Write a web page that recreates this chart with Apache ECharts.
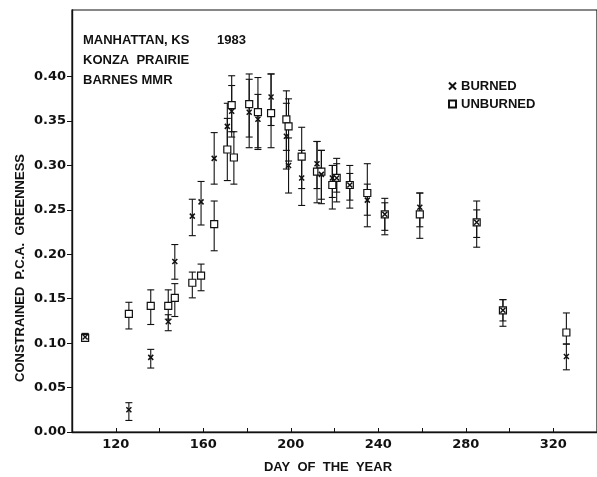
<!DOCTYPE html>
<html><head><meta charset="utf-8">
<script src="https://cdn.jsdelivr.net/npm/echarts@6/dist/echarts.min.js"></script>
<style>html,body{margin:0;padding:0;background:#fff}#c{width:597px;height:477px}</style>
</head><body><div id="c"></div>
<script>
// Burned plots: day, mean, lower and upper error limits
const burnedDay  = [106, 126, 136, 144, 147, 155, 159, 165, 171, 173, 181, 185, 191, 198, 199, 205, 212, 214, 219, 221, 227, 235, 243, 259, 285, 297, 326];
const burnedVal  = [0.107,0.025,0.084,0.124,0.192,0.243,0.259,0.308,0.344,0.361,0.360,0.352,0.377,0.333,0.300,0.286,0.302,0.290,0.286,0.286,0.278,0.261,0.245,0.253,0.236,0.137,0.085];
const burnedLow  = [0.103,0.013,0.072,0.114,0.172,0.221,0.233,0.279,0.318,0.332,0.320,0.320,0.345,0.296,0.269,0.255,0.274,0.262,0.264,0.270,0.261,0.244,0.227,0.231,0.219,0.125,0.070];
const burnedHigh = [0.111,0.033,0.093,0.132,0.211,0.262,0.282,0.337,0.370,0.390,0.397,0.380,0.403,0.370,0.331,0.317,0.327,0.317,0.300,0.302,0.291,0.279,0.258,0.269,0.250,0.149,0.099];
// Unburned plots
const unburnedDay  = [106, 126, 136, 144, 147, 155, 159, 165, 171, 173, 174, 181, 185, 191, 198, 199, 205, 212, 214, 219, 221, 227, 235, 243, 259, 285, 297, 326];
const unburnedVal  = [0.106,0.133,0.142,0.142,0.151,0.168,0.176,0.234,0.318,0.368,0.309,0.369,0.360,0.359,0.352,0.344,0.310,0.293,0.293,0.278,0.286,0.278,0.269,0.245,0.245,0.236,0.137,0.112];
const unburnedLow  = [0.102,0.116,0.121,0.127,0.130,0.151,0.159,0.204,0.283,0.338,0.279,0.332,0.318,0.320,0.317,0.305,0.274,0.258,0.257,0.251,0.259,0.252,0.231,0.222,0.218,0.208,0.119,0.099];
const unburnedHigh = [0.110,0.146,0.160,0.160,0.167,0.180,0.189,0.260,0.353,0.401,0.338,0.403,0.399,0.403,0.384,0.375,0.343,0.327,0.317,0.300,0.308,0.300,0.302,0.263,0.269,0.260,0.149,0.134];
// Axis ticks and labels
const yTicks  = [0, 0.05, 0.10, 0.15, 0.20, 0.25, 0.30, 0.35, 0.40];
const xTicks  = [120, 140, 160, 180, 200, 220, 240, 260, 280, 300, 320];
const xLabels = [120, 160, 200, 240, 280, 320];

const FONT = 'Liberation Sans';
const NUMFONT = 'DejaVu Sans';
const INK = '#111';
const TF = 'bold 13px ' + FONT;

const pts = (d, v) => d.map((x, i) => [x, v[i]]);
const errs = (d, lo, hi) => d.map((x, i) => [x, lo[i], hi[i]]);

function errRender(params, api) {
  const x = api.value(0);
  const a = api.coord([x, api.value(1)]);
  const b = api.coord([x, api.value(2)]);
  const w = 3.5;
  const st = {stroke: INK, lineWidth: 1.1};
  return {type: 'group', children: [
    {type: 'line', shape: {x1: a[0], y1: a[1], x2: b[0], y2: b[1]}, style: st},
    {type: 'line', shape: {x1: a[0] - w, y1: a[1], x2: a[0] + w, y2: a[1]}, style: st},
    {type: 'line', shape: {x1: b[0] - w, y1: b[1], x2: b[0] + w, y2: b[1]}, style: st}
  ]};
}

const XPATH = 'path://M0,0L10,10M10,0L0,10';
const chart = echarts.init(document.getElementById('c'));
chart.setOption({
  animation: false,
  backgroundColor: '#fff',
  grid: {left: 72, top: 10, right: -4, bottom: 45, show: true, borderColor: INK, borderWidth: 1.2},
  xAxis: {
    type: 'value', min: 100, max: 340,
    axisLine: {lineStyle: {color: INK, width: 1.4}},
    axisTick: {inside: true, length: 4, lineStyle: {color: INK}, customValues: xTicks},
    axisLabel: {customValues: xLabels, color: INK, fontFamily: NUMFONT, fontWeight: 'bold', fontSize: 13, margin: 6},
    splitLine: {show: false}
  },
  yAxis: {
    type: 'value', min: 0, max: 0.475,
    axisLine: {show: true, lineStyle: {color: INK, width: 1.4}},
    axisTick: {show: true, inside: false, length: 5, lineStyle: {color: INK}, customValues: yTicks},
    axisLabel: {customValues: yTicks, color: INK, fontFamily: NUMFONT, fontWeight: 'bold', fontSize: 13, margin: 6,
      formatter: v => v.toFixed(2)},
    splitLine: {show: false}
  },
  legend: {
    orient: 'vertical', left: 443, top: 74, itemWidth: 7, itemHeight: 7, itemGap: 4,
    textStyle: {color: INK, fontFamily: FONT, fontWeight: 'bold', fontSize: 13, lineHeight: 14},
    data: [{name: 'BURNED', icon: XPATH}, {name: 'UNBURNED', icon: 'rect'}]
  },
  graphic: [
    {type: 'text', left: 83, top: 34, style: {text: 'MANHATTAN, KS', font: TF, fill: INK}},
    {type: 'text', left: 217, top: 34, style: {text: '1983', font: TF, fill: INK}},
    {type: 'text', left: 83, top: 54, style: {text: 'KONZA  PRAIRIE', font: TF, fill: INK}},
    {type: 'text', left: 83, top: 74, style: {text: 'BARNES MMR', font: TF, fill: INK}},
    {type: 'text', x: 20, y: 268, rotation: Math.PI / 2,
      style: {text: 'CONSTRAINED  P.C.A.  GREENNESS', font: TF, fill: INK, align: 'center', verticalAlign: 'middle'}},
    {type: 'text', x: 328, y: 467,
      style: {text: 'DAY  OF  THE  YEAR', font: TF, fill: INK, align: 'center', verticalAlign: 'middle'}}
  ],
  series: [
    {type: 'custom', name: 'UNBURNED err', renderItem: errRender, data: errs(unburnedDay, unburnedLow, unburnedHigh), encode: {x: 0, y: [1, 2]}, z: 1, silent: true},
    {type: 'custom', name: 'BURNED err', renderItem: errRender, data: errs(burnedDay, burnedLow, burnedHigh), encode: {x: 0, y: [1, 2]}, z: 1, silent: true},
    {type: 'scatter', name: 'UNBURNED', data: pts(unburnedDay, unburnedVal), symbol: 'rect', symbolSize: 7,
      itemStyle: {color: '#fff', borderColor: INK, borderWidth: 1.2, opacity: 1}, z: 3},
    {type: 'scatter', name: 'BURNED', data: pts(burnedDay, burnedVal), symbol: XPATH, symbolSize: 5,
      itemStyle: {color: 'rgba(0,0,0,0)', borderColor: INK, borderWidth: 1.5, opacity: 1}, z: 4}
  ]
});
</script></body></html>
